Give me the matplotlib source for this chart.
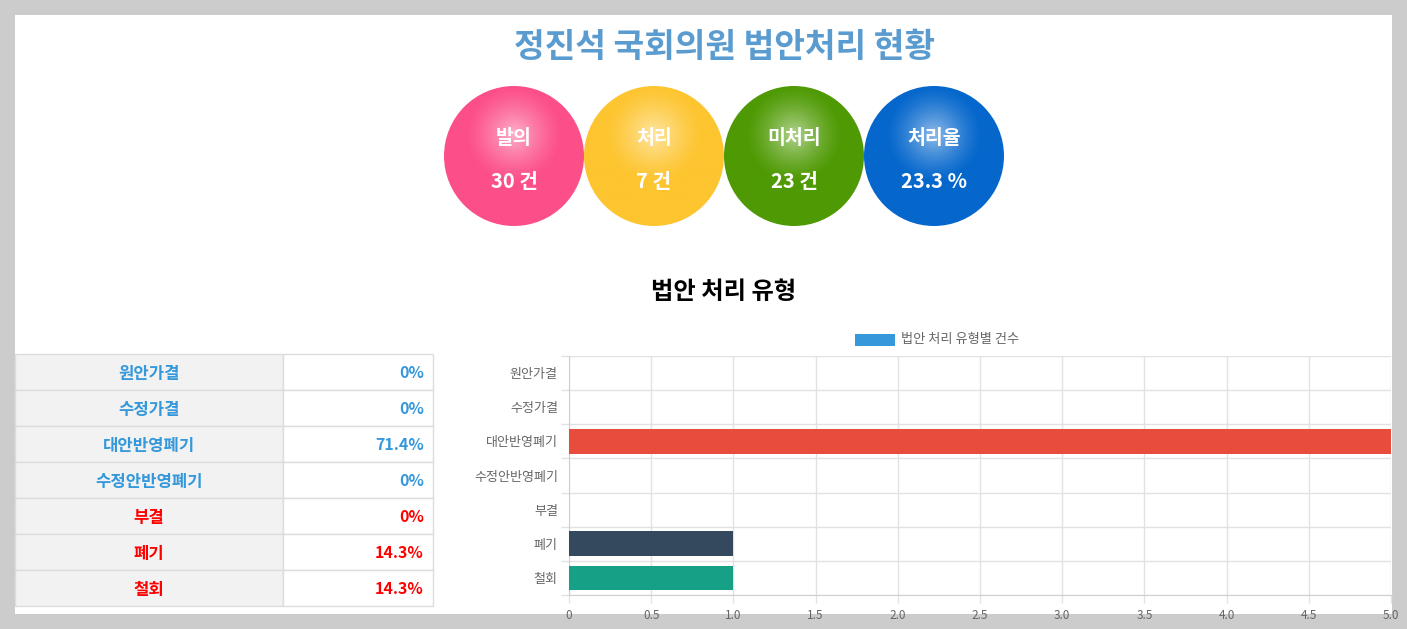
import numpy as np
import matplotlib
matplotlib.use("Agg")
import matplotlib.pyplot as plt
from matplotlib.patches import Rectangle, Circle
from matplotlib.ticker import FixedLocator, NullFormatter
import matplotlib.colors as mcolors

plt.rcParams['font.family'] = ['Noto Sans CJK KR', 'DejaVu Sans']

# ---- data ----
title = '정진석 국회의원 법안처리 현황'
summary_labels = ['발의', '처리', '미처리', '처리율']
summary_values = ['30 건', '7 건', '23 건', '23.3 %']
summary_colors = ['#fc4f89', '#fdc530', '#4f9a04', '#0567cc']

subtitle = '법안 처리 유형'
categories = ['원안가결', '수정가결', '대안반영폐기', '수정안반영폐기', '부결', '폐기', '철회']
counts = [0, 0, 5, 0, 0, 1, 1]
pct_labels = ['0%', '0%', '71.4%', '0%', '0%', '14.3%', '14.3%']
text_colors = ['#3498db', '#3498db', '#3498db', '#3498db', '#ff0000', '#ff0000', '#ff0000']
bar_colors = ['#3498db', '#9b59b6', '#e74c3c', '#f1c40f', '#2ecc71', '#34495e', '#16a085']
legend_label = '법안 처리 유형별 건수'
xticks = [0, 0.5, 1.0, 1.5, 2.0, 2.5, 3.0, 3.5, 4.0, 4.5, 5.0]

W, H = 1407, 629
fig = plt.figure(figsize=(W / 100, H / 100), dpi=100, facecolor='#cccccc')
bg = fig.add_axes([0, 0, 1, 1])
bg.set_xlim(0, W)
bg.set_ylim(H, 0)
bg.axis('off')
bg.add_patch(Rectangle((15, 15), 1377, 599, facecolor='white', edgecolor='none', zorder=0))

# title
bg.text(724, 48, title, ha='center', va='center', fontsize=24, fontweight='bold', color='#5b9cd0')

# circles with radial highlight
R = 70
cy = 156
for i, (lab, val, col) in enumerate(zip(summary_labels, summary_values, summary_colors)):
    cx = 514 + 140 * i
    base = np.array(mcolors.to_rgb(col))
    n = 200
    xs = np.linspace(cx - R, cx + R, n)
    ys = np.linspace(cy - R, cy + R, n)
    X, Y = np.meshgrid(xs, ys)
    d = np.hypot(X - cx, Y - (cy - 22))
    a = np.clip(1 - d / 48, 0, 1) ** 1.3 * 0.55
    img = base[None, None, :] * (1 - a[..., None]) + a[..., None]
    im = bg.imshow(img, extent=(cx - R, cx + R, cy + R, cy - R), zorder=2, interpolation='bilinear')
    circ = Circle((cx, cy), R, transform=bg.transData, facecolor='none', edgecolor='none')
    bg.add_patch(circ)
    im.set_clip_path(circ)
    bg.text(cx, 139, lab, ha='center', va='center', fontsize=14, fontweight='bold', color='white', zorder=3)
    bg.text(cx, 182, val, ha='center', va='center', fontsize=14.5, fontweight='bold', color='white', zorder=3)

bg.set_xlim(0, W)
bg.set_ylim(H, 0)

# subtitle
bg.text(724, 292, subtitle, ha='center', va='center', fontsize=17.5, fontweight='bold', color='black')

# table
top = 354
rh = 36
for i, (cat, pct, tc) in enumerate(zip(categories, pct_labels, text_colors)):
    y0 = top + i * rh
    bg.add_patch(Rectangle((15, y0), 268, rh, facecolor='#f2f2f2', edgecolor='#dddddd', lw=1, zorder=1))
    bg.add_patch(Rectangle((283, y0), 150, rh, facecolor='white', edgecolor='#dddddd', lw=1, zorder=1))
    bg.text(149, y0 + rh / 2 + 1.5, cat, ha='center', va='center', fontsize=12, fontweight='bold', color=tc, zorder=2)
    bg.text(424, y0 + rh / 2 + 1.5, pct, ha='right', va='center', fontsize=11.5, fontweight='bold', color=tc, zorder=2)

# legend
bg.add_patch(Rectangle((855, 334), 40, 12, facecolor='#3498db', edgecolor='none', zorder=2))
bg.text(901, 339, legend_label, ha='left', va='center', fontsize=9.5, color='#666666', zorder=2)

# bar chart
x0, x1, y0p, y1p = 569, 1391, 356, 595
ax = fig.add_axes([x0 / W, 1 - y1p / H, (x1 - x0) / W, (y1p - y0p) / H])
ax.set_facecolor('none')
ypos = np.arange(len(categories))
ax.barh(ypos, counts, height=0.72, color=bar_colors, linewidth=0, zorder=3)
ax.set_xlim(0, 5)
ax.set_ylim(len(categories) - 0.5, -0.5)
ax.set_xticks(xticks)
ax.set_xticklabels(['0' if v == 0 else f'{v:.1f}' for v in xticks])
ax.set_yticks(ypos)
ax.set_yticklabels(categories)
ax.yaxis.set_minor_locator(FixedLocator(np.arange(-0.5, len(categories), 1.0)))
ax.yaxis.set_minor_formatter(NullFormatter())
ax.tick_params(axis='y', which='major', length=0, pad=8, labelsize=9.4, labelcolor='#666666')
ax.tick_params(axis='y', which='minor', length=6, color='#e2e2e2', width=1)
ax.tick_params(axis='x', which='major', length=6, color='#e2e2e2', width=1, labelsize=8.5, labelcolor='#666666', pad=4)
ax.grid(axis='x', which='major', color='#e2e2e2', lw=1, zorder=0)
ax.grid(axis='y', which='minor', color='#e2e2e2', lw=1, zorder=0)
for s in ['top', 'right']:
    ax.spines[s].set_visible(False)
ax.spines['left'].set_color('#cfcfcf')
ax.spines['bottom'].set_color('#cfcfcf')
ax.set_axisbelow(True)

fig.savefig('out.png', dpi=100, facecolor=fig.get_facecolor())
